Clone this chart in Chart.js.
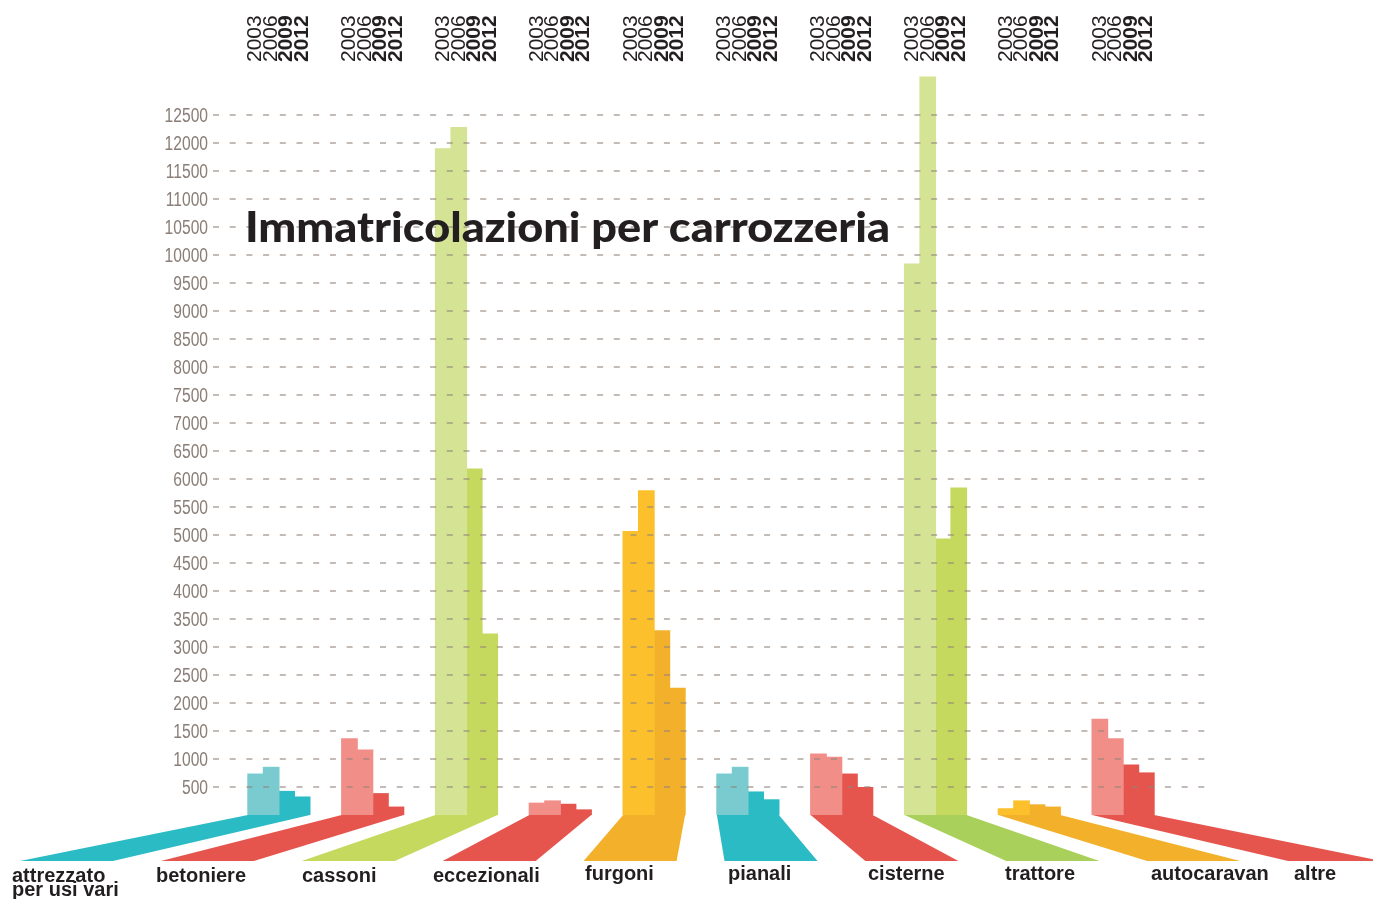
<!DOCTYPE html>
<html>
<head>
<meta charset="utf-8">
<title>Immatricolazioni per carrozzeria</title>
<script src="https://cdn.jsdelivr.net/npm/chart.js@4.4.1/dist/chart.umd.min.js"></script>
<style>
    html, body { margin: 0; padding: 0; background: #fff; }
    canvas { display: block; }
</style>
</head>
<body>
<canvas id="carrozzeriaChart" width="1373" height="899"></canvas>
<script>
// Data
const categories = [['attrezzato', 'per usi vari'], 'betoniere', 'cassoni', 'eccezionali', 'furgoni',
    'pianali', 'cisterne', 'trattore', 'autocaravan', 'altre'];
const years = ['2003', '2006', '2009', '2012'];
const values2003 = [730, 1360, 11900, 210, 5060, 730, 1090, 9840, 110, 1710];
const values2006 = [850, 1160, 12280, 250, 5790, 850, 1030, 13180, 250, 1360];
const values2009 = [420, 380, 6180, 190, 3290, 410, 730, 4930, 180, 890];
const values2012 = [320, 140, 3230, 90, 2260, 270, 490, 5840, 140, 750];
const yTicks = [500, 1000, 1500, 2000, 2500, 3000, 3500, 4000, 4500, 5000, 5500, 6000,
    6500, 7000, 7500, 8000, 8500, 9000, 9500, 10000, 10500, 11000, 11500, 12000, 12500];

// Colours per group
const palette = {
    teal: { light: '#79cbcf', dark: '#2bbbc4' },
    red: { light: '#f28e88', dark: '#e5554d' },
    green: { light: '#d4e394', dark: '#c5d95e' },
    yellow: { light: '#fdc02d', dark: '#f3b02b' }
};
const groupColors = ['teal', 'red', 'green', 'red', 'yellow', 'teal', 'red', 'green', 'yellow', 'red'];
const stemColors = ['#2bbbc4', '#e5554d', '#c5d95e', '#e5554d', '#f3b02b', '#2bbbc4', '#e5554d', '#a8d05a', '#f3b02b', '#e5554d'];

const lightColors = groupColors.map(g => palette[g].light);
const darkColors = groupColors.map(g => palette[g].dark);

const textColor = '#231f20';
const tickColor = '#8a7e76';

// where the category names sit along the bottom edge
const labelLeft = [12, 156, 302, 433, 585, 728, 868, 1005, 1151, 1294];

// Draws the dashed grid over the bars, the narrow tick labels, the year labels on top,
// the title and the "stems" leading down to the category names
const decorPlugin = {
    id: 'decor',
    afterDatasetsDraw(chart) {
        const ctx = chart.ctx;
        const area = chart.chartArea;
        const yScale = chart.scales.y;

        // dashed grid lines
        ctx.save();
        ctx.strokeStyle = 'rgba(145,132,122,0.55)';
        ctx.lineWidth = 2;
        ctx.setLineDash([6, 10.7]);
        yTicks.forEach(v => {
            const y = Math.round(yScale.getPixelForValue(v));
            ctx.beginPath();
            ctx.moveTo(area.left - 19, y);
            ctx.lineTo(area.right + 44, y);
            ctx.stroke();
        });
        ctx.restore();

        // tick labels (condensed look)
        ctx.save();
        ctx.fillStyle = tickColor;
        ctx.font = '20px "Liberation Sans", Arial, sans-serif';
        ctx.textAlign = 'right';
        ctx.textBaseline = 'middle';
        yTicks.forEach(v => {
            const y = yScale.getPixelForValue(v);
            ctx.save();
            ctx.translate(area.left - 24, y + 1);
            ctx.scale(0.78, 1);
            ctx.fillText(String(v), 0, 0);
            ctx.restore();
        });
        ctx.restore();

        // title
        ctx.save();
        ctx.fillStyle = textColor;
        ctx.font = '900 42px Lato';
        ctx.textBaseline = 'alphabetic';
        ctx.textAlign = 'left';
        const title = 'Immatricolazioni per carrozzeria';
        const w = ctx.measureText(title).width;
        ctx.translate(area.left + 13, 242);
        ctx.scale(645 / w, 1);
        ctx.fillText(title, 0, 0);
        ctx.restore();
    },
    afterDraw(chart) {
        const ctx = chart.ctx;
        const yZero = chart.scales.y.getPixelForValue(0);
        const firstMeta = chart.getDatasetMeta(0);
        const lastMeta = chart.getDatasetMeta(years.length - 1);

        // year labels, rotated, above every bar
        ctx.save();
        ctx.fillStyle = textColor;
        years.forEach((year, i) => {
            const meta = chart.getDatasetMeta(i);
            ctx.font = (i >= 2 ? 'bold ' : '') + '21px "Liberation Sans", Arial, sans-serif';
            meta.data.forEach(bar => {
                ctx.save();
                ctx.translate(bar.x, 62);
                ctx.rotate(-Math.PI / 2);
                ctx.textAlign = 'left';
                ctx.textBaseline = 'middle';
                ctx.fillText(year, 0, 0);
                ctx.restore();
            });
        });
        ctx.restore();

        // stems + category names
        const stemDrop = 46;
        const stemWidth = 93;
        ctx.save();
        categories.forEach((cat, j) => {
            const first = firstMeta.data[j];
            const last = lastMeta.data[j];
            const left = first.x - first.width / 2;
            const right = last.x + last.width / 2;
            const bx = 20 + j * 140.9;
            ctx.fillStyle = stemColors[j];
            ctx.beginPath();
            ctx.moveTo(left, yZero);
            ctx.lineTo(right, yZero);
            ctx.lineTo(bx + stemWidth, yZero + stemDrop);
            ctx.lineTo(bx, yZero + stemDrop);
            ctx.closePath();
            ctx.fill();

            ctx.fillStyle = textColor;
            ctx.font = 'bold 20px "Liberation Sans", Arial, sans-serif';
            ctx.textAlign = 'left';
            ctx.textBaseline = 'alphabetic';
            const lines = Array.isArray(cat) ? cat : [cat];
            const base = j < 4 ? 882 : 880;
            lines.forEach((line, k) => {
                ctx.fillText(line, labelLeft[j], base + k * 14.3);
            });
        });
        ctx.restore();
    }
};

new Chart(document.getElementById('carrozzeriaChart').getContext('2d'), {
    type: 'bar',
    data: {
        labels: categories,
        datasets: [{
            label: years[0],
            data: values2003,
            backgroundColor: lightColors
        }, {
            label: years[1],
            data: values2006,
            backgroundColor: lightColors
        }, {
            label: years[2],
            data: values2009,
            backgroundColor: darkColors
        }, {
            label: years[3],
            data: values2012,
            backgroundColor: darkColors
        }]
    },
    options: {
        responsive: false,
        animation: false,
        layout: {
            padding: { left: 0, right: 203, top: 76, bottom: 84 }
        },
        datasets: {
            bar: {
                categoryPercentage: 0.661,
                barPercentage: 1.0,
                borderWidth: 0,
                inflateAmount: 0.6
            }
        },
        plugins: {
            legend: { display: false },
            tooltip: { enabled: false },
            title: { display: false }
        },
        scales: {
            x: {
                display: false
            },
            y: {
                min: 0,
                max: 13200,
                afterBuildTicks: scale => {
                    scale.ticks = yTicks.map(v => ({ value: v }));
                },
                afterFit: scale => {
                    scale.width = 232;
                },
                border: { display: false },
                grid: { display: false, drawTicks: false },
                ticks: { display: false }
            }
        }
    },
    plugins: [decorPlugin]
});
</script>
</body>
</html>
